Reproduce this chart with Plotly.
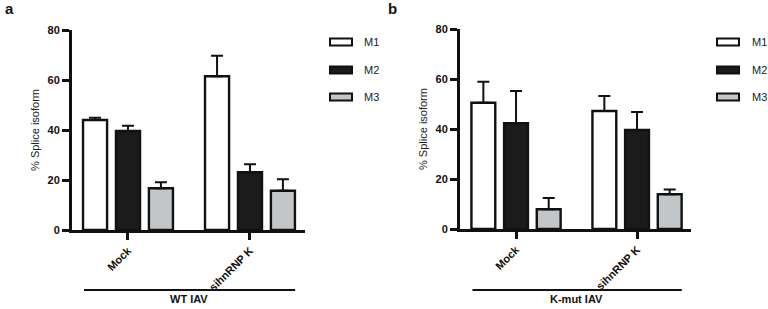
import plotly.graph_objects as go

groups = ["Mock", "sihnRNP K"]
series = ["M1", "M2", "M3"]
colors = ["#ffffff", "#1b1b1b", "#c3c6c8"]

# Panel a: WT IAV
a_vals = {"M1": [44.0, 61.5], "M2": [39.6, 23.1], "M3": [16.7, 15.7]}
a_err = {"M1": [0.9, 8.2], "M2": [2.1, 3.2], "M3": [2.4, 4.6]}
# Panel b: K-mut IAV
b_vals = {"M1": [50.5, 47.2], "M2": [42.3, 39.6], "M3": [7.9, 13.9]}
b_err = {"M1": [8.4, 6.0], "M2": [12.9, 7.2], "M3": [4.5, 1.9]}

y_ticks = [0, 20, 40, 60, 80]
panel_titles = ["WT IAV", "K-mut IAV"]
panel_letters = ["a", "b"]

FONT = "Liberation Sans, Arial, sans-serif"
W, H = 768, 309

fig = go.Figure()

panels = [
    dict(vals=a_vals, err=a_err, xa="x", ya="y", xdom=[72 / W, 305 / W], ydom=[1 - 230 / H, 1 - 30 / H],
         xrange=[-0.459, 1.451], legx=330, textx=362, letter_x=3, title=panel_titles[0], letter=panel_letters[0]),
    dict(vals=b_vals, err=b_err, xa="x2", ya="y2", xdom=[460 / W, 691 / W], ydom=[1 - 229 / H, 1 - 29 / H],
         xrange=[-0.463, 1.446], legx=717, textx=750, letter_x=386, title=panel_titles[1], letter=panel_letters[1]),
]

shapes = []
annotations = []
for p in panels:
    for s, c in zip(series, colors):
        fig.add_trace(go.Bar(
            x=[0, 1], y=p["vals"][s], name=s, showlegend=False, hoverinfo="skip",
            marker=dict(color=c, line=dict(color="#111111", width=2.4)),
            error_y=dict(type="data", symmetric=False, array=p["err"][s], arrayminus=[0, 0],
                         color="#111111", thickness=2, width=6),
            xaxis=p["xa"], yaxis=p["ya"],
        ))
    # group underline + label
    shapes.append(dict(type="line", xref=p["xa"], yref="paper", x0=-0.36, x1=1.37,
                       y0=1 - 290 / H, y1=1 - 290 / H, line=dict(color="#111111", width=2)))
    annotations.append(dict(text="<b>%s</b>" % p["title"], xref=p["xa"], yref="paper", x=0.5,
                            y=1 - 299 / H, yanchor="middle", showarrow=False,
                            font=dict(family=FONT, size=11, color="#111111")))
    annotations.append(dict(text="<b>%s</b>" % p["letter"], xref="paper", yref="paper", x=p["letter_x"] / W,
                            y=1 - 9 / H, xanchor="left", yanchor="middle", showarrow=False,
                            font=dict(family=FONT, size=15, color="#111111")))
    # manual legend
    for s, c, yy in zip(series, colors, [42, 70, 97]):
        shapes.append(dict(type="rect", xref="paper", yref="paper", x0=p["legx"] / W, x1=(p["legx"] + 22) / W,
                           y0=1 - (yy + 3.5) / H, y1=1 - (yy - 3.5) / H,
                           fillcolor=c, line=dict(color="#111111", width=2)))
        annotations.append(dict(text=s, xref="paper", yref="paper", x=p["textx"] / W, y=1 - yy / H,
                                xanchor="left", yanchor="middle", showarrow=False,
                                font=dict(family=FONT, size=11, color="#222222")))

axis_common_x = dict(tickvals=[0, 1], ticktext=["<b>%s</b>" % g for g in groups], tickangle=-45,
                     ticks="outside", ticklen=7, tickwidth=2.5, tickcolor="#111111",
                     showline=True, linecolor="#111111", linewidth=3, showgrid=False, zeroline=False,
                     automargin=False, fixedrange=True,
                     tickfont=dict(family=FONT, size=11, color="#111111"))
axis_common_y = dict(range=[0, 80], tickvals=y_ticks, ticktext=["<b>%d</b>" % v for v in y_ticks],
                     ticks="outside", ticklen=7, tickwidth=2.5, tickcolor="#111111",
                     showline=True, linecolor="#111111", linewidth=3, showgrid=False, zeroline=False,
                     automargin=False, fixedrange=True,
                     tickfont=dict(family=FONT, size=11, color="#111111"),
                     title=dict(text="% Splice isoform", font=dict(family=FONT, size=11, color="#222222"),
                                standoff=6))

fig.update_layout(
    width=W, height=H, margin=dict(l=0, r=0, t=0, b=0, autoexpand=False),
    paper_bgcolor="white", plot_bgcolor="white",
    barmode="group", bargap=0.19, bargroupgap=0.27,
    xaxis=dict(domain=panels[0]["xdom"], range=panels[0]["xrange"], anchor="y", **axis_common_x),
    yaxis=dict(domain=panels[0]["ydom"], anchor="x", **axis_common_y),
    xaxis2=dict(domain=panels[1]["xdom"], range=panels[1]["xrange"], anchor="y2", **axis_common_x),
    yaxis2=dict(domain=panels[1]["ydom"], anchor="x2", **axis_common_y),
    shapes=shapes, annotations=annotations, font=dict(family=FONT),
)

fig.write_html("out.html", config={"displayModeBar": False},
               post_script="document.body.style.margin='0';document.body.style.padding='0';"
                           "document.body.style.overflow='hidden';")
